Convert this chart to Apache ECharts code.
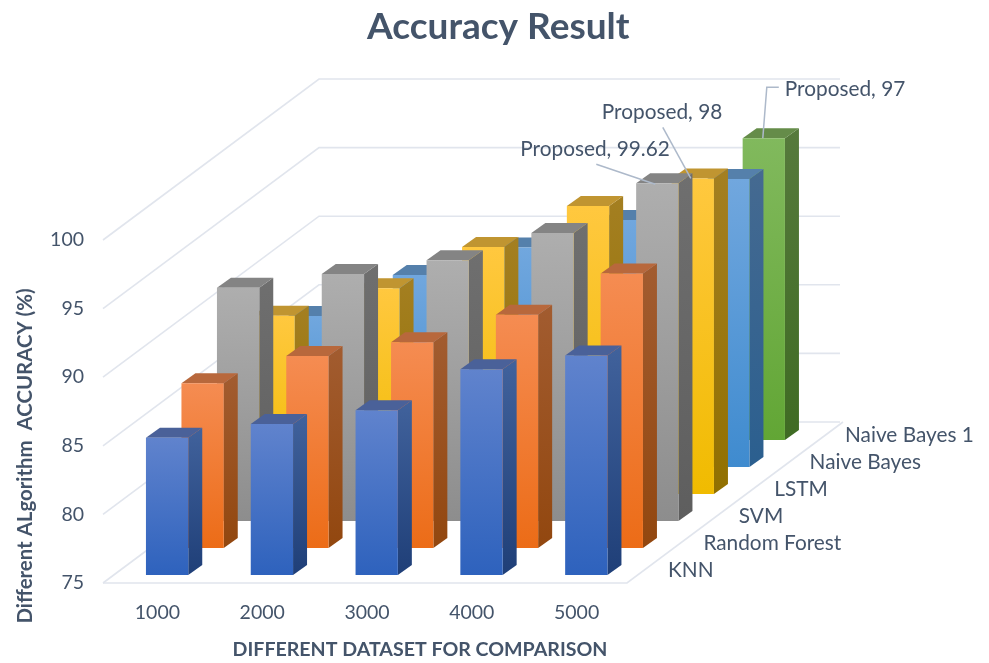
<!DOCTYPE html>
<html>
<head>
<meta charset="utf-8">
<style>html,body{margin:0;padding:0;background:#fff}#chart{width:989px;height:663px}</style>
<script src="https://cdn.jsdelivr.net/npm/echarts@6/dist/echarts.min.js"></script>
</head>
<body>
<div id="chart"></div>
<script>
// Dataset sizes along the front edge of the floor
const categories = ['1000', '2000', '3000', '4000', '5000'];
const yTicks = [75, 80, 85, 90, 95, 100];

// Accuracy per algorithm, front row first
const algorithms = ['KNN', 'Random Forest', 'SVM', 'LSTM', 'Naive Bayes', 'Naive Bayes 1'];
const knn = [85, 86, 87, 90, 91];
const randomForest = [87, 89, 90, 92, 95];
const svm = [92, 93, 94, 96, 99.62];
const lstm = [88, 90, 93, 96, 98];
const naiveBayes = [86, 89, 91, 93, 96];
const naiveBayes1 = [null, null, null, null, 97]; // the rear row only shows at 5000
const rows = [knn, randomForest, svm, lstm, naiveBayes, naiveBayes1];

// Called-out bars: row, dataset index, caption
const callouts = [
  { row: 2, cat: 4, caption: 'Proposed' },
  { row: 3, cat: 4, caption: 'Proposed' },
  { row: 5, cat: 4, caption: 'Proposed' }
];

// Oblique projection used for the depth axis (pixels)
const depth = { stepX: 35.5, stepY: 27, startX: 11.7, startY: 8, barW: 42.3, sideX: 14, sideY: 10, wallX: 216, wallY: 161, wallEnd: 840 };

// Leader line and caption placement, relative to the top centre of the bar
const calloutLayout = [
  { line: [[-61, -19], [-2, 1]], textX: -137, textY: -34 },
  { line: [[-30, -51], [-2, 0]], textX: -91, textY: -66 },
  { line: [[15, -51], [3, -51], [-1, 0]], textX: 21, textY: -49 }
];

// top, side and front (light to dark) shades for each row
const shades = [
  { top: '#4a6199', side: ['#41629c', '#1f3f78'], front: ['#6083cd', '#2e62bd'] },
  { top: '#b8683c', side: ['#a25c30', '#92470f'], front: ['#f58c52', '#ec6c17'] },
  { top: '#848484', side: ['#6f6f6f', '#5e5e5e'], front: ['#aeaeae', '#8d8d8d'] },
  { top: '#c09531', side: ['#a47f21', '#917000'], front: ['#ffc83f', '#f0bb00'] },
  { top: '#5580ab', side: ['#456a91', '#2b5f8f'], front: ['#71a7de', '#3f8bcf'] },
  { top: '#658c49', side: ['#567a3c', '#3f6b23'], front: ['#81b95d', '#62a635'] }
];

const textColor = '#44546a';
const gridColor = '#e1e5ed';
const leaderColor = '#adb9ca';
const fontFamily = 'Lato, "Open Sans", sans-serif';

function vGrad(colors) {
  return { type: 'linear', x: 0, y: 0, x2: 0, y2: 1, colorStops: [{ offset: 0, color: colors[0] }, { offset: 1, color: colors[1] }] };
}

// Top centre of the front face of a bar, from the value axis and the row's depth
function barFrame(api, row, cat, value) {
  const top = api.coord([cat, value]);
  const base = api.coord([cat, yTicks[0]]);
  const ox = depth.startX + row * depth.stepX;
  const oy = depth.startY + row * depth.stepY;
  return { cx: top[0] + ox, top: top[1] - oy, base: base[1] - oy };
}

function renderBar(row) {
  return function (params, api) {
    const cat = api.value(0);
    const value = api.value(1);
    if (isNaN(value)) return null;
    const f = barFrame(api, row, cat, value);
    const l = f.cx - depth.barW / 2, r = f.cx + depth.barW / 2;
    const sx = depth.sideX, sy = depth.sideY;
    const s = shades[row];
    return {
      type: 'group',
      children: [
        { type: 'polygon', shape: { points: [[r, f.top], [r + sx, f.top - sy], [r + sx, f.base - sy], [r, f.base]] }, style: { fill: vGrad(s.side) } },
        { type: 'polygon', shape: { points: [[l, f.top], [l + sx, f.top - sy], [r + sx, f.top - sy], [r, f.top]] }, style: { fill: s.top } },
        { type: 'rect', shape: { x: l, y: f.top, width: depth.barW, height: f.base - f.top }, style: { fill: vGrad(s.front) } }
      ]
    };
  };
}

// Side wall and back wall gridlines, plus the floor outline at the lowest tick
function renderWalls(params, api) {
  const v = api.value(0);
  const c0 = api.coord([0, v]);
  const band = api.size([1, 0])[0];
  const x0 = c0[0] - band / 2;
  const x1 = x0 + band * categories.length;
  const y = c0[1];
  const bx = x0 + depth.wallX, by = y - depth.wallY;
  const pts = [[x0, y], [bx, by], [depth.wallEnd, by]];
  const children = [{ type: 'polyline', shape: { points: pts }, style: { stroke: gridColor, lineWidth: 1.6, fill: null } }];
  if (v === yTicks[0]) {
    children.push({ type: 'polyline', shape: { points: [[x0, y], [x1, y], [x1 + depth.wallX, by]] }, style: { stroke: gridColor, lineWidth: 1.6, fill: null } });
  }
  return { type: 'group', children };
}

// Row names stepping back along the right edge of the floor
function renderRowNames(params, api) {
  const i = params.dataIndex;
  const c = api.coord([categories.length - 1, yTicks[0]]);
  const band = api.size([1, 0])[0];
  return {
    type: 'text',
    x: c[0] + band / 2 + 41 + i * 35.4,
    y: c[1] - 13 - i * depth.stepY,
    style: { text: algorithms[i], fill: textColor, font: '20.8px ' + fontFamily, textAlign: 'left', textVerticalAlign: 'middle' }
  };
}

function renderCallout(params, api) {
  const i = params.dataIndex;
  const item = callouts[i];
  const value = rows[item.row][item.cat];
  const f = barFrame(api, item.row, item.cat, value);
  const layout = calloutLayout[i];
  return {
    type: 'group',
    children: [
      { type: 'polyline', shape: { points: layout.line.map(p => [f.cx + p[0], f.top + p[1]]) }, style: { stroke: leaderColor, lineWidth: 1.5, fill: null } },
      { type: 'text', x: f.cx + layout.textX, y: f.top + layout.textY, style: { text: item.caption + ', ' + value, fill: textColor, font: '20.8px ' + fontFamily, textAlign: 'left', textVerticalAlign: 'middle' } }
    ]
  };
}

const series = [{
  type: 'custom', coordinateSystem: 'cartesian2d', silent: true,
  data: yTicks.map(v => [v]), encode: { y: 0 }, renderItem: renderWalls, z: 1
}];

// Painted rear row first so the nearer rows overlap it
for (let row = rows.length - 1; row >= 0; row--) {
  series.push({
    name: algorithms[row], type: 'custom', coordinateSystem: 'cartesian2d', silent: true,
    data: rows[row].map((v, c) => [c, v === null ? NaN : v]),
    encode: { x: 0, y: 1 }, renderItem: renderBar(row), z: 2
  });
}
series.push({
  type: 'custom', coordinateSystem: 'cartesian2d', silent: true,
  data: algorithms.map((n, i) => [i]), encode: {}, renderItem: renderRowNames, z: 3
});
series.push({
  type: 'custom', coordinateSystem: 'cartesian2d', silent: true,
  data: callouts.map((c, i) => [i]), encode: {}, renderItem: renderCallout, z: 4
});

const chart = echarts.init(document.getElementById('chart'), null, { renderer: 'canvas' });
chart.setOption({
  animation: false,
  backgroundColor: '#ffffff',
  title: {
    text: 'Accuracy Result', left: 362, top: 4,
    textStyle: { color: textColor, fontFamily, fontWeight: 'bold', fontSize: 37 }
  },
  grid: { left: 103, top: 240, width: 524, height: 343, containLabel: false },
  xAxis: {
    type: 'category', data: categories,
    axisLine: { show: false }, axisTick: { show: false }, splitLine: { show: false },
    axisLabel: { color: textColor, fontFamily, fontSize: 19.5, margin: 20, padding: [0, 0, 0, 4] }
  },
  yAxis: {
    type: 'value', min: yTicks[0], max: yTicks[yTicks.length - 1], interval: 5,
    axisLine: { show: false }, axisTick: { show: false }, splitLine: { show: false },
    axisLabel: { color: textColor, fontFamily, fontSize: 19.5, margin: 19 }
  },
  graphic: [
    { type: 'text', x: 420, y: 650, style: { text: 'DIFFERENT DATASET FOR COMPARISON', fill: textColor, font: 'bold 19.6px ' + fontFamily, textAlign: 'center', textVerticalAlign: 'middle' } },
    { type: 'text', x: 25, y: 456, rotation: Math.PI / 2, style: { text: 'Different ALgorithm  ACCURACY (%)', fill: textColor, font: 'bold 20.4px ' + fontFamily, textAlign: 'center', textVerticalAlign: 'middle' } }
  ],
  series
});
</script>
</body>
</html>
